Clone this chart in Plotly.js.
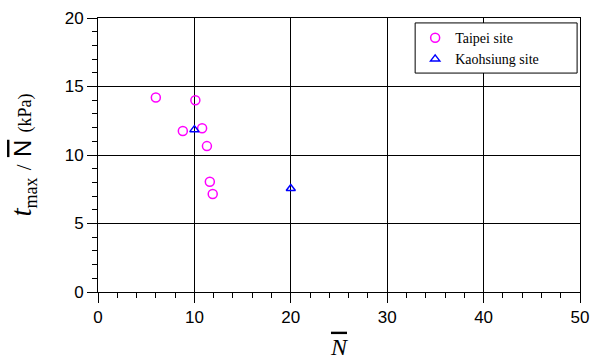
<!DOCTYPE html>
<html>
<head>
<meta charset="utf-8">
<script src="https://cdn.plot.ly/plotly-3.0.1.min.js"></script>
<style>
  html, body { margin: 0; padding: 0; background: #fff; }
  #chart { width: 606px; height: 361px; }
</style>
</head>
<body>
<div id="chart"></div>
<script>
// Normalised peak load versus mean SPT blow count
const taipeiN   = [6.0, 10.1, 8.8, 10.8, 11.3, 11.6, 11.9];
const taipeiT   = [14.2, 14.0, 11.75, 11.95, 10.65, 8.05, 7.15];
const kaohN     = [10.0, 20.0];
const kaohT     = [11.85, 7.55];
const seriesNames = ['Taipei site', 'Kaohsiung site'];
const xTicks = [0, 10, 20, 30, 40, 50];
const yTicks = [0, 5, 10, 15, 20];

const serif = 'Times New Roman, Liberation Serif, serif';
const sans = 'Arial, Liberation Sans, sans-serif';

const traces = [
  {
    x: taipeiN, y: taipeiT, name: seriesNames[0],
    type: 'scatter', mode: 'markers', cliponaxis: false,
    marker: { symbol: 'circle-open', size: 9, color: '#ff00ff', line: { width: 1.5, color: '#ff00ff' } }
  },
  {
    x: kaohN, y: kaohT, name: seriesNames[1],
    type: 'scatter', mode: 'markers', cliponaxis: false,
    marker: { symbol: 'triangle-up-open', size: 8, color: '#0000ff', line: { width: 1.5, color: '#0000ff' } }
  }
];

const axisCommon = {
  showline: true, linecolor: '#000', linewidth: 1, mirror: true,
  showgrid: true, gridcolor: '#000', gridwidth: 1,
  zeroline: false,
  ticks: 'outside', ticklen: 10, tickwidth: 1, tickcolor: '#000',
  tickfont: { family: sans, size: 17, color: '#000' },
};

const layout = {
  width: 606, height: 361,
  margin: { l: 98, r: 26, t: 18, b: 69 },
  paper_bgcolor: '#fff', plot_bgcolor: '#fff',
  showlegend: true,
  legend: {
    x: 0.658, y: 0.985, xanchor: 'left', yanchor: 'top',
    bgcolor: 'rgba(0,0,0,0)', borderwidth: 0,
    font: { family: serif, size: 14, color: '#000' },
    tracegroupgap: 0
  },
  // framed white panel behind the legend entries
  shapes: [{
    type: 'rect', xref: 'paper', yref: 'paper', layer: 'above',
    x0: 0.658, x1: 0.994, y0: 0.799, y1: 0.982,
    fillcolor: '#fff', line: { color: '#000', width: 1 }
  }],
  xaxis: Object.assign({}, axisCommon, {
    range: [0, 50], tickvals: xTicks,
    minor: { dtick: 2, ticks: 'outside', ticklen: 5, tickcolor: '#000', showgrid: false },
    title: { text: '<i><span style="text-decoration:overline">N</span></i>', font: { family: serif, size: 24, color: '#000' }, standoff: 11 }
  }),
  yaxis: Object.assign({}, axisCommon, {
    range: [0, 20], tickvals: yTicks,
    minor: { dtick: 1, ticks: 'outside', ticklen: 5, tickcolor: '#000', showgrid: false },
    title: {
      text: '<i>t</i><sub><span style="font-size:18px">max</span></sub> <span style="font-size:21px">/</span> ' +
            '<span style="font-family:Arial, Liberation Sans, sans-serif;font-size:24px;text-decoration:overline">N</span> ' +
            '<span style="font-size:18px">(kPa)</span>',
      font: { family: serif, size: 29, color: '#000' }, standoff: 24
    }
  })
};

Plotly.newPlot('chart', traces, layout, { staticPlot: true, displayModeBar: false });
</script>
</body>
</html>
